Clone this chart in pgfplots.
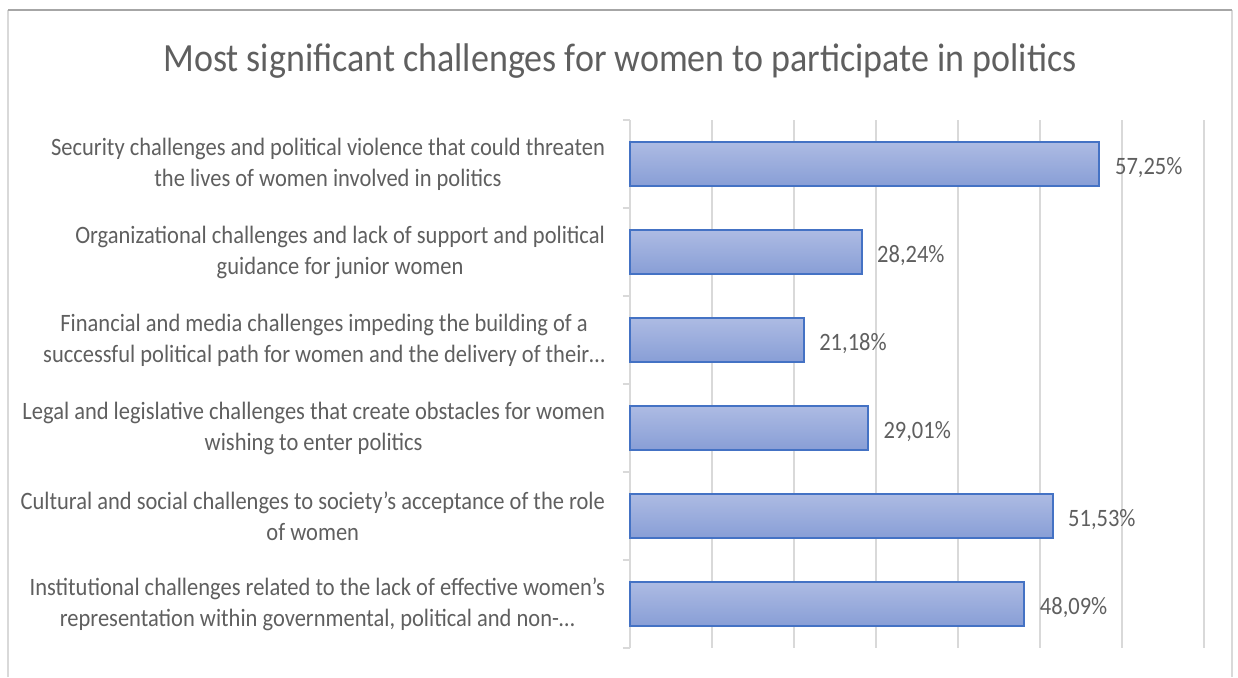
\documentclass[border=0pt]{standalone}
\usepackage{fontspec}
\setmainfont{Carlito}[FakeStretch=0.9]
\usepackage{pgfplots}
\pgfplotsset{compat=1.18}

\definecolor{txtgray}{HTML}{5F5F5F}
\definecolor{gridgray}{HTML}{D9D9D9}
\definecolor{barline}{HTML}{4472C4}
\definecolor{bartop}{HTML}{ADBBE3}
\definecolor{barbot}{HTML}{889ED6}

\pgfplotsset{chbar/.style={xbar, bar width=0.5, bar shift=0pt, draw=barline, solid,
    line width=1pt, top color=bartop, bottom color=barbot, mark=none}}

\begin{document}
\begin{tikzpicture}
\useasboundingbox (0,0) rectangle (619pt,338.5pt);
% chart frame
\draw[gridgray, line width=0.8pt] (4pt,0) -- (4pt,333.5pt);
\draw[gridgray, line width=0.8pt] (616pt,0) -- (616pt,333.5pt);
\draw[black!35, line width=0.8pt] (4pt,333.5pt) -- (616pt,333.5pt);

\node[txtgray, font=\fontsize{20}{24}\selectfont] at (310pt,308pt)
  {Most significant challenges for women to participate in politics};

\begin{axis}[
    at={(315pt,14.5pt)}, anchor=south west,
    scale only axis,
    width=287pt, height=264pt,
    xmin=0, xmax=70,
    xtick={0,10,...,70},
    xticklabels={},
    xmajorgrids=true,
    grid style={gridgray, line width=0.8pt},
    major tick length=0pt,
    ymin=-0.5, ymax=5.5,
    y dir=reverse,
    ytick={0,...,5},
    yticklabels={
      {Security challenges and political violence that could threaten\\the lives of women involved in politics},
      {Organizational challenges and lack of support and political\\guidance for junior women},
      {Financial and media challenges impeding the building of a\\successful political path for women and the delivery of their…},
      {Legal and legislative challenges that create obstacles for women\\wishing to enter politics},
      {Cultural and social challenges to society's acceptance of the role\\of women},
      {Institutional challenges related to the lack of effective women's\\representation within governmental, political and non-…}
    },
    yticklabel style={align=center, text=txtgray, xshift=-9pt, font=\fontsize{12.5}{15.5}\selectfont},
    extra y ticks={-0.5,0.5,...,5.5},
    extra y tick labels={},
    extra y tick style={major tick length=3.5pt, tick align=outside, tick style={gridgray, line width=0.8pt}},
    axis y line*=left,
    axis x line*=bottom,
    x axis line style={draw=none},
    y axis line style={-, gridgray, line width=0.8pt},
    /pgf/number format/assume math mode=true,
    point meta=x,
    nodes near coords={\pgfmathprintnumber[fixed,fixed zerofill,precision=2,use comma]{\pgfplotspointmeta}\%},
    nodes near coords style={text=txtgray, font=\fontsize{12.5}{15}\selectfont, anchor=west, xshift=4pt, yshift=-2pt},
    clip=false,
]
\addplot[chbar] coordinates {(57.25,0)};
\addplot[chbar] coordinates {(28.24,1)};
\addplot[chbar] coordinates {(21.18,2)};
\addplot[chbar] coordinates {(29.01,3)};
\addplot[chbar] coordinates {(51.53,4)};
\addplot[chbar] coordinates {(48.09,5)};
\end{axis}
\end{tikzpicture}
\end{document}
